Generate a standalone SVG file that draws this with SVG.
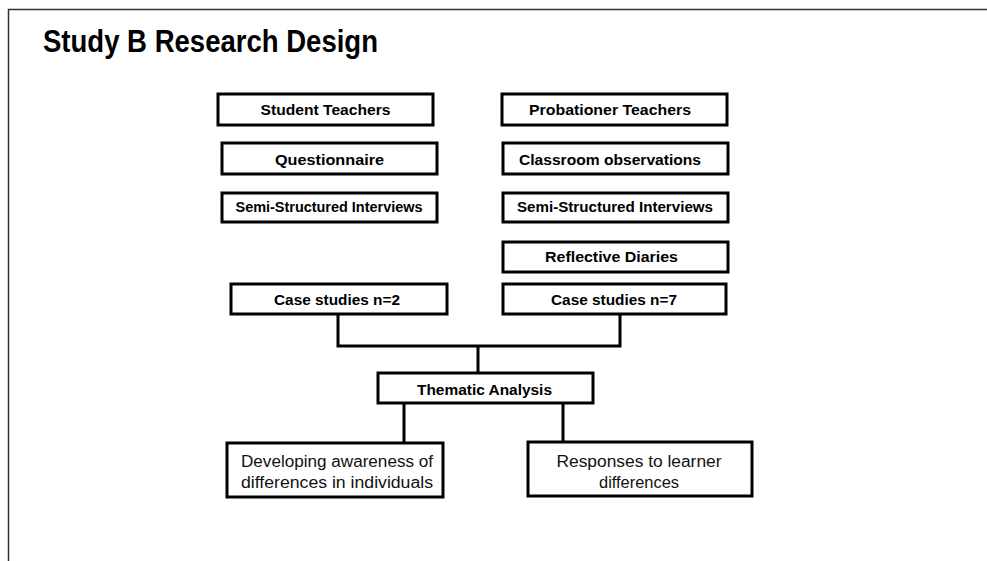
<svg xmlns="http://www.w3.org/2000/svg" width="987" height="561" viewBox="0 0 987 561">
<style>
.box{fill:#fff;stroke:#000;stroke-width:3}
.b{font-family:"Liberation Sans",Arial,sans-serif;font-weight:bold;font-size:15px;fill:#000;text-anchor:middle}
.s{font-size:14px}
.n{font-family:"Liberation Sans",Arial,sans-serif;font-size:16px;fill:#111;text-anchor:middle}
.c{fill:none;stroke:#000;stroke-width:3}
</style>
<rect width="987" height="561" fill="#fff"/>
<path d="M8.5 561V9.5H987" fill="none" stroke="#333" stroke-width="1.5"/>
<text x="43" y="52" font-family="'Liberation Sans',Arial,sans-serif" font-weight="bold" font-size="32" textLength="335" lengthAdjust="spacingAndGlyphs">Study B Research Design</text>
<g id="connectors">
<path class="c" d="M338 314V346H620V314M478 346V373"/>
<path class="c" d="M404 403V443M563 403V442"/>
</g>
<g id="student-teachers"><rect class="box" x="218" y="94" width="215" height="31"/><text class="b" x="325.5" y="115" textLength="130" lengthAdjust="spacingAndGlyphs">Student Teachers</text></g>
<g id="questionnaire"><rect class="box" x="222" y="143" width="215" height="31"/><text class="b" x="329.5" y="165" textLength="109" lengthAdjust="spacingAndGlyphs">Questionnaire</text></g>
<g id="ssi-left"><rect class="box" x="222" y="193" width="215" height="29"/><text class="b s" x="329" y="212" textLength="187" lengthAdjust="spacingAndGlyphs">Semi-Structured Interviews</text></g>
<g id="probationer-teachers"><rect class="box" x="502" y="94" width="225" height="31"/><text class="b" x="610" y="115" textLength="162" lengthAdjust="spacingAndGlyphs">Probationer Teachers</text></g>
<g id="classroom-observations"><rect class="box" x="503" y="143" width="225" height="31"/><text class="b" x="610" y="165" textLength="182" lengthAdjust="spacingAndGlyphs">Classroom observations</text></g>
<g id="ssi-right"><rect class="box" x="503" y="193" width="225" height="29"/><text class="b s" x="615" y="212" textLength="196" lengthAdjust="spacingAndGlyphs">Semi-Structured Interviews</text></g>
<g id="reflective-diaries"><rect class="box" x="503" y="242" width="225" height="30"/><text class="b" x="611.5" y="262" textLength="133" lengthAdjust="spacingAndGlyphs">Reflective Diaries</text></g>
<g id="case-2"><rect class="box" x="231" y="284" width="216" height="30"/><text class="b" x="337" y="305" textLength="126" lengthAdjust="spacingAndGlyphs">Case studies n=2</text></g>
<g id="case-7"><rect class="box" x="503" y="284" width="223" height="30"/><text class="b" x="614" y="305" textLength="126" lengthAdjust="spacingAndGlyphs">Case studies n=7</text></g>
<g id="thematic"><rect class="box" x="378" y="373" width="215" height="30"/><text class="b" x="484.5" y="395" textLength="135" lengthAdjust="spacingAndGlyphs">Thematic Analysis</text></g>
<g id="awareness"><rect class="box" x="227" y="443" width="216" height="54"/><text class="n" x="337" y="467" textLength="192" lengthAdjust="spacingAndGlyphs">Developing awareness of</text><text class="n" x="337" y="488" textLength="192" lengthAdjust="spacingAndGlyphs">differences in individuals</text></g>
<g id="responses"><rect class="box" x="528" y="442" width="224" height="54"/><text class="n" x="639" y="467" textLength="165" lengthAdjust="spacingAndGlyphs">Responses to learner</text><text class="n" x="639" y="488" textLength="80" lengthAdjust="spacingAndGlyphs">differences</text></g>
</svg>
